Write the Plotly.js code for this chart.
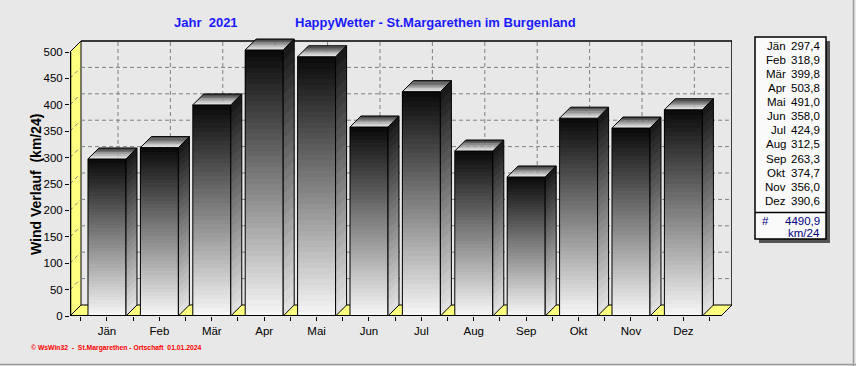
<!DOCTYPE html>
<html>
<head>
<meta charset="utf-8">
<script src="https://cdn.plot.ly/plotly-3.0.1.min.js"></script>
<style>
html,body{margin:0;padding:0;background:#e8e8e8;}
#chart{width:856px;height:366px;}
</style>
</head>
<body>
<div id="chart"></div>
<script>
// ---- data ----
const months = ['Jän','Feb','Mär','Apr','Mai','Jun','Jul','Aug','Sep','Okt','Nov','Dez'];
const values = [297.4,318.9,399.8,503.8,491.0,358.0,424.9,312.5,263.3,374.7,356.0,390.6];
const yTicks = [0,50,100,150,200,250,300,350,400,450,500];
const titleLeft = 'Jahr  2021';
const titleRight = 'HappyWetter - St.Margarethen im Burgenland';
const yTitle = 'Wind Verlauf  (km/24)';
const footer = '\u00A9 WsWin32  -  St.Margarethen - Ortschaft  01.01.2024';
const unitText = 'km/24';

// ---- geometry (pixels) ----
const L = 70, R = 732, T = 35, B = 316;
const sx = 52.4, sy = 0.528, D = 11;
const xmin = -0.706;
const xmax = xmin + (R - L) / sx;
const ymax = (B - T) / sy;
const dx = D / sx, dy = D / sy;
const xFrontR = xmax - dx;
const hw = 19 / sx;
const yTop = 500;
const font = 'Liberation Sans, Arial, sans-serif';
const px = x => (x - L) / (R - L);
const py = y => (B - y) / (B - T);
const xs = months.map((m, i) => i);

function gray(g) { g = Math.round(g); return 'rgb(' + g + ',' + g + ',' + g + ')'; }
function poly(pts) { return 'M' + pts.map(p => p[0] + ',' + p[1]).join('L') + 'Z'; }

const traces = [];
const N = 48;
for (let k = 0; k < N; k++) {
  const t = (k + 0.5) / N;
  traces.push({
    type: 'bar', x: xs,
    y: values.map(v => v / N + (k > 0 ? v * 0.004 : 0)),
    base: values.map(v => v * k / N - (k > 0 ? v * 0.004 : 0)),
    width: 2 * hw,
    marker: { color: gray(248 - t * (248 - 10)), line: { width: 0 } },
    showlegend: false, hoverinfo: 'skip'
  });
}
traces.push({
  type: 'bar', x: xs, y: values, base: values.map(() => 0), width: 2 * hw,
  marker: { color: 'rgba(0,0,0,0)', line: { color: '#000', width: 1 } },
  showlegend: false, hoverinfo: 'skip'
});

const shapes = [];
const yellow = '#ffff80';
const gridStyle = { color: '#808080', width: 1, dash: '4px,3px' };
// floor
shapes.push({ type: 'path', layer: 'below', xref: 'x', yref: 'y',
  path: poly([[xmin, 0], [xFrontR, 0], [xFrontR + dx, dy], [xmin + dx, dy]]),
  fillcolor: yellow, line: { color: '#000', width: 1 } });
// left wall
shapes.push({ type: 'path', layer: 'below', xref: 'x', yref: 'y',
  path: poly([[xmin, 0], [xmin, yTop], [xmin + dx, yTop + dy], [xmin + dx, dy]]),
  fillcolor: yellow, line: { color: '#000', width: 1 } });
// back wall grid
yTicks.forEach(v => {
  if (v > 0 && v < yTop) {
    shapes.push({ type: 'line', layer: 'below', xref: 'x', yref: 'y',
      x0: xmin + dx, x1: xmax, y0: v + dy, y1: v + dy, line: gridStyle });
    shapes.push({ type: 'line', layer: 'below', xref: 'x', yref: 'y',
      x0: xmin, x1: xmin + dx, y0: v, y1: v + dy, line: gridStyle });
  }
});
xs.forEach(i => {
  shapes.push({ type: 'line', layer: 'below', xref: 'x', yref: 'y',
    x0: i + dx, x1: i + dx, y0: dy, y1: yTop + dy, line: gridStyle });
});
// back wall border
shapes.push({ type: 'line', layer: 'below', xref: 'x', yref: 'y',
  x0: xmin + dx, x1: xmax, y0: yTop + dy, y1: yTop + dy, line: { color: '#000', width: 1.5 } });
shapes.push({ type: 'line', layer: 'below', xref: 'x', yref: 'y',
  x0: xmax, x1: xmax, y0: dy, y1: yTop + dy, line: { color: '#000', width: 1.5 } });

// bar side and top faces
const M = 24, S = 10;
values.forEach((v, i) => {
  const xl = i - hw, xr = i + hw;
  for (let k = 0; k < M; k++) {
    const t = (k + 0.5) / M;
    const y0 = v * k / M, y1 = v * (k + 1) / M + (k < M - 1 ? v * 0.006 : 0);
    shapes.push({ type: 'path', layer: 'above', xref: 'x', yref: 'y',
      path: poly([[xr, y0], [xr, y1], [xr + dx, y1 + dy], [xr + dx, y0 + dy]]),
      fillcolor: gray(228 - t * (228 - 22)), line: { width: 0 } });
  }
  shapes.push({ type: 'path', layer: 'above', xref: 'x', yref: 'y',
    path: poly([[xr, 0], [xr, v], [xr + dx, v + dy], [xr + dx, dy]]),
    fillcolor: 'rgba(0,0,0,0)', line: { color: '#000', width: 1 } });
  for (let j = 0; j < S; j++) {
    const t0 = j / S, t1 = Math.min(1, (j + 1.15) / S);
    const tm = (j + 0.5) / S;
    shapes.push({ type: 'path', layer: 'above', xref: 'x', yref: 'y',
      path: poly([[xl + dx * t0, v + dy * t0], [xr + dx * t0, v + dy * t0], [xr + dx * t1, v + dy * t1], [xl + dx * t1, v + dy * t1]]),
      fillcolor: gray(248 - tm * (248 - 50)), line: { width: 0 } });
  }
  shapes.push({ type: 'path', layer: 'above', xref: 'x', yref: 'y',
    path: poly([[xl, v], [xr, v], [xr + dx, v + dy], [xl + dx, v + dy]]),
    fillcolor: 'rgba(0,0,0,0)', line: { color: '#000', width: 1 } });
});
// thick front edges
shapes.push({ type: 'line', layer: 'above', xref: 'x', yref: 'y',
  x0: xmin, x1: xmin, y0: 0, y1: yTop, line: { color: '#000', width: 2.5 } });
shapes.push({ type: 'line', layer: 'above', xref: 'x', yref: 'y',
  x0: xmin, x1: xFrontR, y0: 0, y1: 0, line: { color: '#000', width: 2 } });

// legend box
const bx0 = 755, bx1 = 826, by0 = 37, by1 = 239;
shapes.push({ type: 'rect', xref: 'paper', yref: 'paper', layer: 'below',
  x0: px(bx0 + 4), x1: px(bx1 + 4), y0: py(by1 + 4), y1: py(by0 + 4),
  fillcolor: '#555555', line: { width: 0 } });
shapes.push({ type: 'rect', xref: 'paper', yref: 'paper', layer: 'below',
  x0: px(bx0), x1: px(bx1), y0: py(by1), y1: py(by0),
  fillcolor: '#fafafa', line: { color: '#000', width: 1.5 } });
shapes.push({ type: 'line', xref: 'paper', yref: 'paper', layer: 'below',
  x0: px(bx0), x1: px(bx1), y0: py(212.5), y1: py(212.5), line: { color: '#000', width: 1.5 } });
// outer frame
shapes.push({ type: 'line', xref: 'paper', yref: 'paper', x0: px(853.5), x1: px(853.5), y0: py(0), y1: py(366),
  line: { color: '#9a9a9a', width: 1.5 } });
shapes.push({ type: 'line', xref: 'paper', yref: 'paper', x0: px(0), x1: px(856), y0: py(364.5), y1: py(364.5),
  line: { color: '#9a9a9a', width: 1.5 } });

const annotations = [];
const blue = '#1a1aff';
annotations.push({ xref: 'paper', yref: 'paper', x: px(206), y: py(22), text: '<b>' + titleLeft + '</b>',
  showarrow: false, xanchor: 'center', yanchor: 'middle', font: { family: font, size: 13, color: blue } });
annotations.push({ xref: 'paper', yref: 'paper', x: px(436), y: py(22), text: '<b>' + titleRight + '</b>',
  showarrow: false, xanchor: 'center', yanchor: 'middle', font: { family: font, size: 13, color: blue } });
annotations.push({ xref: 'paper', yref: 'paper', x: px(36), y: py(185), text: '<b>' + yTitle + '</b>', textangle: -90,
  showarrow: false, xanchor: 'center', yanchor: 'middle', font: { family: font, size: 14, color: '#000' } });
annotations.push({ xref: 'paper', yref: 'paper', x: px(29), y: py(348), text: '<b>' + footer + '</b>',
  showarrow: false, xanchor: 'left', yanchor: 'middle', font: { family: font, size: 6.8, color: '#ff0000' } });
const fmt = v => v.toFixed(1).replace('.', ',');
months.forEach((m, i) => {
  const yy = 45.7 + i * 14.1;
  annotations.push({ xref: 'paper', yref: 'paper', x: px(788), y: py(yy), text: m, showarrow: false,
    xanchor: 'right', yanchor: 'middle', font: { family: font, size: 11.5, color: '#000' } });
  annotations.push({ xref: 'paper', yref: 'paper', x: px(822), y: py(yy), text: fmt(values[i]), showarrow: false,
    xanchor: 'right', yanchor: 'middle', font: { family: font, size: 11.5, color: '#000' } });
});
const total = values.reduce((a, b) => a + b, 0);
const navy = '#000080';
annotations.push({ xref: 'paper', yref: 'paper', x: px(765), y: py(221.5), text: '#', showarrow: false,
  xanchor: 'center', yanchor: 'middle', font: { family: font, size: 11.5, color: navy } });
annotations.push({ xref: 'paper', yref: 'paper', x: px(822), y: py(221.5), text: fmt(total), showarrow: false,
  xanchor: 'right', yanchor: 'middle', font: { family: font, size: 11.5, color: navy } });
annotations.push({ xref: 'paper', yref: 'paper', x: px(822), y: py(233), text: unitText, showarrow: false,
  xanchor: 'right', yanchor: 'middle', font: { family: font, size: 11.5, color: navy } });

const layout = {
  width: 856, height: 366,
  margin: { l: L, r: 856 - R, t: T, b: 366 - B, pad: 0 },
  paper_bgcolor: '#e8e8e8', plot_bgcolor: 'rgba(0,0,0,0)',
  barmode: 'overlay', bargap: 0, showlegend: false, hovermode: false,
  font: { family: font, size: 11, color: '#000' },
  xaxis: {
    range: [xmin, xmax], tickvals: xs, ticktext: months, showgrid: false, zeroline: false, showline: false,
    ticks: 'outside', ticklen: 4, tickcolor: '#000', tickwidth: 1,
    minor: { tick0: -0.5, dtick: 0.5, ticks: 'outside', ticklen: 4, tickcolor: '#000', showgrid: false },
    tickfont: { family: font, size: 11.5, color: '#000' }, fixedrange: true
  },
  yaxis: {
    range: [0, ymax], tickvals: yTicks, ticktext: yTicks.map(String), showgrid: false, zeroline: false, showline: false,
    ticks: 'outside', ticklen: 4, tickcolor: '#000', tickwidth: 1,
    tickfont: { family: font, size: 11.5, color: '#000' }, fixedrange: true
  },
  shapes: shapes, annotations: annotations
};

Plotly.newPlot('chart', traces, layout, { staticPlot: true, displayModeBar: false });
</script>
</body>
</html>
